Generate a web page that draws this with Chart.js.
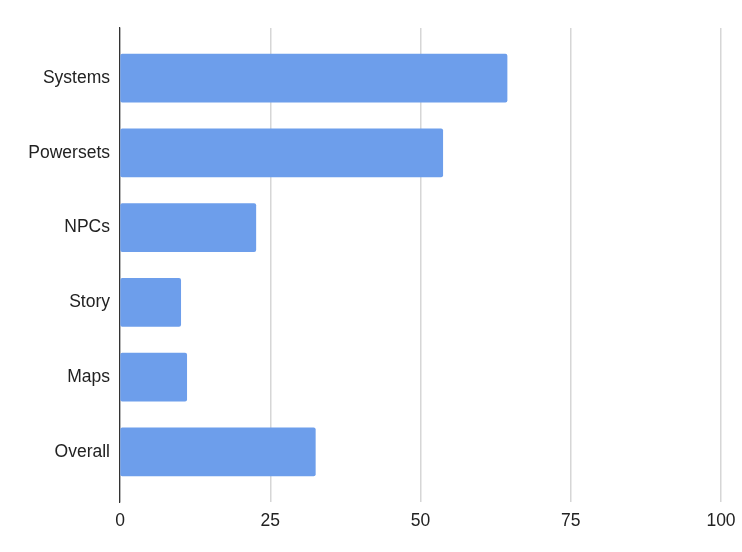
<!DOCTYPE html>
<html>
<head>
<meta charset="utf-8">
<script src="https://cdn.jsdelivr.net/npm/chart.js@4/dist/chart.umd.min.js"></script>
<style>
  html, body { margin: 0; padding: 0; background: #ffffff; }
  #wrap { width: 742px; height: 552px; }
</style>
</head>
<body>
<div id="wrap"><canvas id="c"></canvas></div>
<script>
const categories = ["Systems", "Powersets", "NPCs", "Story", "Maps", "Overall"];
const values = [64.4, 53.7, 22.6, 10.1, 11.1, 32.5];
const xTicks = [0, 25, 50, 75, 100];

const points = values.map((v, i) => ({ x: v, y: i }));

new Chart(document.getElementById('c'), {
  type: 'bar',
  data: {
    datasets: [{
      data: points,
      backgroundColor: '#6d9eeb',
      borderColor: '#6d9eeb',
      borderWidth: 0,
      borderRadius: 2,
      borderSkipped: false,
      barThickness: 48
    }]
  },
  options: {
    indexAxis: 'y',
    responsive: true,
    maintainAspectRatio: false,
    animation: false,
    layout: { padding: { top: 28, right: 21, bottom: 11, left: 0 } },
    plugins: { legend: { display: false }, tooltip: { enabled: false } },
    scales: {
      x: {
        type: 'linear',
        min: 0,
        max: 100,
        afterBuildTicks: (scale) => { scale.ticks = xTicks.map(v => ({ value: v })); },
        afterFit: (scale) => { scale.paddingRight = 0; scale.paddingLeft = 0; },
        grid: {
          drawTicks: false,
          lineWidth: (ctx) => ctx.tick && ctx.tick.value === 0 ? 1.2 : 1.5,
          color: (ctx) => ctx.tick && ctx.tick.value === 0 ? '#333333' : '#d6d6d6'
        },
        border: { display: false },
        ticks: {
          padding: 9,
          color: '#222222',
          font: { family: 'Liberation Sans, Arial, sans-serif', size: 17.5 }
        }
      },
      y: {
        type: 'linear',
        offset: false,
        reverse: true,
        min: -0.67,
        max: 5.67,
        afterBuildTicks: (scale) => { scale.ticks = categories.map((c, i) => ({ value: i })); },
        afterFit: (scale) => { scale.width = 120; },
        grid: { display: false, drawTicks: false, offset: false },
        border: { display: true, color: '#333333', width: 1.2 },
        ticks: {
          padding: 10,
          color: '#222222',
          font: { family: 'Liberation Sans, Arial, sans-serif', size: 17.5 },
          callback: (v) => categories[v] !== undefined ? categories[v] : ''
        }
      }
    }
  }
});
</script>
</body>
</html>
